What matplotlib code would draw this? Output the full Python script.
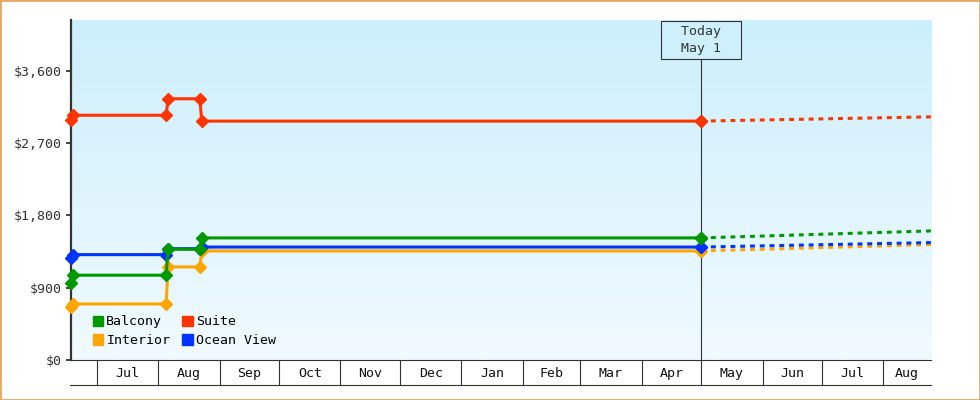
import numpy as np
import pandas as pd
import matplotlib
matplotlib.use('Agg')
import matplotlib.pyplot as plt
from matplotlib.patches import Patch, Rectangle
import matplotlib.transforms as mtrans

plt.rcParams['font.family'] = 'DejaVu Sans Mono'

# price history (observed)
hist_dates = pd.to_datetime(['2023-06-18', '2023-06-19', '2023-08-05', '2023-08-06',
                             '2023-08-22', '2023-08-23', '2024-05-01'])
balcony = [955, 1055, 1055, 1378, 1378, 1519, 1519]
suite = [2988, 3045, 3045, 3250, 3250, 2972, 2972]
interior = [664, 697, 697, 1158, 1158, 1357, 1357]
ocean_view = [1266, 1311, 1311, 1385, 1385, 1405, 1405]

# projection after today
proj_dates = pd.to_datetime(['2024-05-01', '2024-08-25'])
balcony_proj = [1519, 1606]
suite_proj = [2972, 3025]
interior_proj = [1357, 1436]
ocean_view_proj = [1405, 1461]

month_starts = pd.date_range('2023-07-01', '2024-08-01', freq='MS')
month_labels = ['Jul', 'Aug', 'Sep', 'Oct', 'Nov', 'Dec', 'Jan', 'Feb', 'Mar', 'Apr',
                'May', 'Jun', 'Jul', 'Aug']
yticks = [0, 900, 1800, 2700, 3600]

today = pd.Timestamp('2024-05-01')
x_start = pd.Timestamp('2023-06-18')
x_end = pd.Timestamp('2024-08-25')

series = [
    ('Interior', interior, interior_proj, '#ffa500'),
    ('Ocean View', ocean_view, ocean_view_proj, '#0033ff'),
    ('Balcony', balcony, balcony_proj, '#009900'),
    ('Suite', suite, suite_proj, '#ff3300'),
]

fig = plt.figure(figsize=(9.8, 4.0), dpi=100)
ax = fig.add_axes([71/980, 40/400, 860/980, 340/400])

# gradient background
grad = np.linspace(0, 1, 256).reshape(-1, 1)
top = np.array([204, 239, 252]) / 255
bot = np.array([241, 250, 255]) / 255
img = top[None, None, :] * (1 - grad[:, :, None]) + bot[None, None, :] * grad[:, :, None]
ax.imshow(img, extent=[0, 1, 0, 1], transform=ax.transAxes, aspect='auto', zorder=0)

for name, hist, proj, col in series:
    ax.plot(hist_dates, hist, color=col, lw=2.2, marker='D', ms=6.3, zorder=3, clip_on=False)
    ax.plot(proj_dates, proj, color=col, lw=2.2, linestyle=(0, (1.6, 1.6)), zorder=2)
    ax.plot([today], [hist[-1]], color=col, marker='D', ms=6.3, zorder=3)

ax.set_xlim(x_start, x_end)
ax.set_ylim(0, 4230)

# today marker
ax.axvline(today, ymax=1 - 40/340, color='#333333', lw=0.8, zorder=1)
bt = mtrans.blended_transform_factory(ax.transData, ax.transAxes)
ax.text(today, 1 - 5/340, '  Today  \n  May 1  ', transform=bt, ha='center', va='top',
        fontsize=9.5, color='#333333', linespacing=1.4,
        bbox=dict(boxstyle='square,pad=0.32', fc='#cdf0fc', ec='#333333', lw=0.8))

# y axis
ax.set_yticks(yticks)
ax.set_yticklabels(['$' + format(v, ',') for v in yticks])
ax.tick_params(axis='y', length=3.6, width=1.3, pad=3, colors='#333333', labelsize=9.5)

# x axis: month boxes
edges = list(month_starts) + [x_end]
mids = [edges[i] + (edges[i + 1] - edges[i]) / 2 for i in range(len(month_starts))]
ax.set_xticks(month_starts)
ax.set_xticklabels([])
ax.set_xticks(mids, minor=True)
ax.set_xticklabels(month_labels, minor=True)
ax.tick_params(axis='x', which='major', length=18, width=0.8, color='#333333')
ax.tick_params(axis='x', which='minor', length=0, pad=5, labelsize=9.5, labelcolor='#111111')
ax.plot([-1/860, 1], [-25/340, -25/340], transform=ax.transAxes, color='#333333',
        lw=0.8, clip_on=False)

for s in ['top', 'right']:
    ax.spines[s].set_visible(False)
ax.spines['left'].set_linewidth(1.6)
ax.spines['left'].set_color('#333333')
ax.spines['bottom'].set_linewidth(0.8)
ax.spines['bottom'].set_color('#333333')

handles = [Patch(color='#009900', label='Balcony'), Patch(color='#ffa500', label='Interior'),
           Patch(color='#ff3300', label='Suite'), Patch(color='#0033ff', label='Ocean View')]
ax.legend(handles=handles, ncol=2, loc='lower left', bbox_to_anchor=(0.025, 0.038),
          frameon=False, fontsize=9.5, handlelength=0.8, handleheight=0.8,
          handletextpad=0.25, columnspacing=0.9, labelspacing=0.45, borderpad=0,
          borderaxespad=0)

fig.patches.append(Rectangle((0, 0), 1, 1, transform=fig.transFigure, fill=False,
                             ec='#e8a865', lw=2))

fig.savefig('out.png', dpi=100)
